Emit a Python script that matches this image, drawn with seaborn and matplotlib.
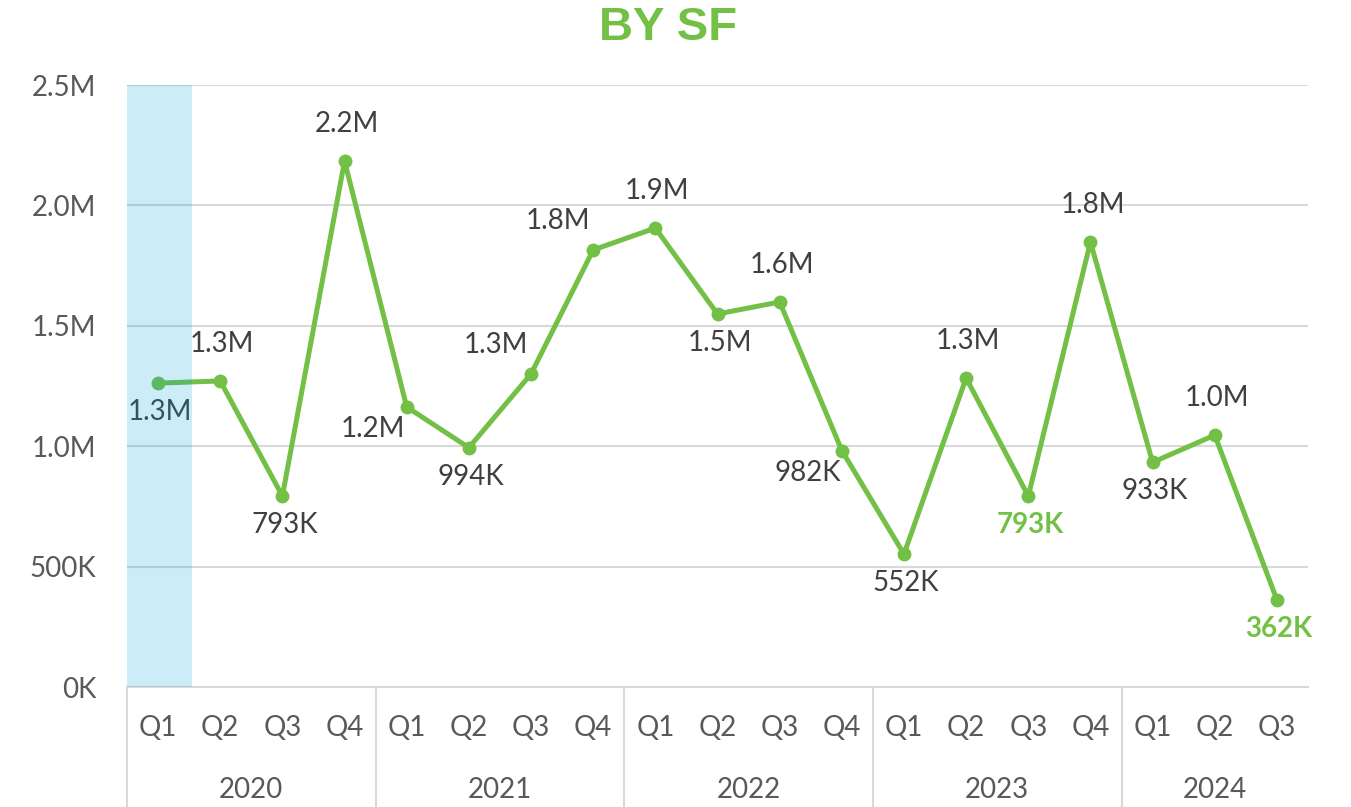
import matplotlib
matplotlib.use("Agg")
import matplotlib.pyplot as plt
import matplotlib.transforms as mtransforms
import seaborn as sns
import pandas as pd

# ---- data ----
years = ["2020", "2021", "2022", "2023", "2024"]
quarters = ["Q1", "Q2", "Q3", "Q4",
            "Q1", "Q2", "Q3", "Q4",
            "Q1", "Q2", "Q3", "Q4",
            "Q1", "Q2", "Q3", "Q4",
            "Q1", "Q2", "Q3"]
quarters_per_year = [4, 4, 4, 4, 3]
values = [1262000, 1271000, 793000, 2184000,
          1163000, 994000, 1300000, 1815000,
          1906000, 1549000, 1599000, 982000,
          552000, 1283000, 793000, 1848000,
          933000, 1046000, 362000]
value_labels = ["1.3M", "1.3M", "793K", "2.2M",
                "1.2M", "994K", "1.3M", "1.8M",
                "1.9M", "1.5M", "1.6M", "982K",
                "552K", "1.3M", "793K", "1.8M",
                "933K", "1.0M", "362K"]
highlight_labels = [14, 18]
ytick_values = [0, 500000, 1000000, 1500000, 2000000, 2500000]
ytick_labels = ["0K", "500K", "1.0M", "1.5M", "2.0M", "2.5M"]

# label placement (style): offsets in pixels (dx, dy) ; dy positive = up
label_pos = ["below", "above", "below", "above",
             "left_below", "below", "left_above", "left_above",
             "above", "below", "above", "left_below",
             "below", "above", "below", "above",
             "below", "above", "below"]
offsets_px = {"above": (2, 37), "below": (2, -29),
              "left_below": (-34, -22), "left_above": (-35, 29)}

GREEN = "#72C045"
GRID = "#D9D9D9"
TEXT = "#404040"
TICK = "#595959"
FS = 20

sns.set_theme(style="whitegrid")
plt.rcParams['font.family'] = ['Lato', 'DejaVu Sans']

W, H = 1351, 807
fig = plt.figure(figsize=(W / 100, H / 100), dpi=100)
ax_left, ax_right, ax_top, ax_bot = 127, 1308, 85, 687
ax = fig.add_axes([ax_left / W, (H - ax_bot) / H, (ax_right - ax_left) / W, (ax_bot - ax_top) / H])

df = pd.DataFrame({"idx": list(range(len(values))), "value": values})
sns.lineplot(data=df, x="idx", y="value", ax=ax, color=GREEN, linewidth=3.6,
             marker="o", markersize=10, markeredgewidth=0, markerfacecolor=GREEN, zorder=3)

ax.set_xlim(-0.5, len(values) - 0.5)
ax.set_ylim(0, 2500000)
ax.set_yticks(ytick_values)
ax.set_yticklabels(ytick_labels, fontsize=FS, color=TICK)
ax.tick_params(axis="y", pad=22, length=0)
ax.set_xticks([])
ax.set_xlabel("")
ax.set_ylabel("")
ax.grid(axis="y", color=GRID, linewidth=1.5)
ax.grid(axis="x", visible=False)
for s in ["left", "right", "top"]:
    ax.spines[s].set_visible(False)
ax.spines["bottom"].set_color(GRID)
ax.spines["bottom"].set_linewidth(1.5)
ax.set_facecolor("white")

# data labels
for i, (v, lab) in enumerate(zip(values, value_labels)):
    dx, dy = offsets_px[label_pos[i]]
    hl = i in highlight_labels
    ax.annotate(lab, xy=(i, v), xytext=(dx * 0.72, dy * 0.72), textcoords="offset points",
                ha="center", va="center", fontsize=FS,
                color=GREEN if hl else TEXT, fontweight="bold" if hl else "normal", zorder=4)

# highlight band on top (semi-transparent)
ax.axvspan(-0.5, 0.55, color="#00A0DC", alpha=0.2, linewidth=0, zorder=5)

# category axis
trans = mtransforms.blended_transform_factory(ax.transData, ax.transAxes)
axh = ax_bot - ax_top
q_y = -41 / axh
y_y = -103 / axh
for i, q in enumerate(quarters):
    ax.text(i, q_y, q, transform=trans, ha="center", va="center", fontsize=FS, color=TICK)

start = 0
bounds = [start]
for n in quarters_per_year:
    start += n
    bounds.append(start)
for k, yr in enumerate(years):
    a, b = bounds[k], bounds[k + 1]
    ax.text((a + b - 1) / 2, y_y, yr, transform=trans, ha="center", va="center", fontsize=FS, color=TICK)
for b in bounds[:-1]:
    ax.plot([b - 0.5, b - 0.5], [0, -(H - ax_bot) / axh], transform=trans, color=GRID,
            linewidth=1.5, clip_on=False, zorder=1)

fig.text(668 / W, 1 - 28 / H, "BY SF", ha="center", va="center", fontsize=34,
         fontweight="bold", color=GREEN, family=["Liberation Sans", "DejaVu Sans"])

fig.savefig("out.png", dpi=100, facecolor="white")
